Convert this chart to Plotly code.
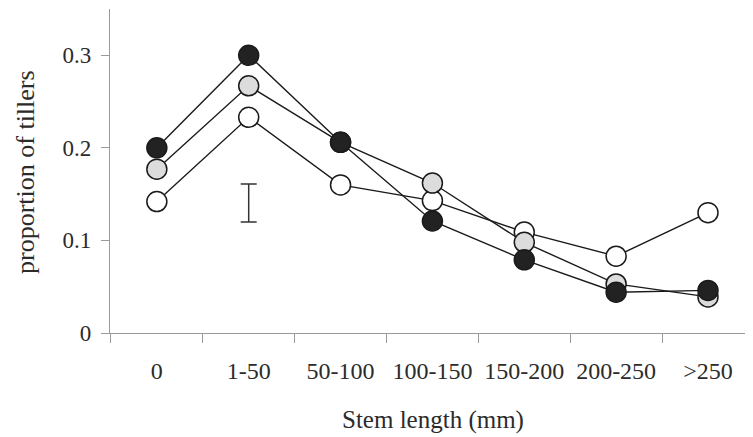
import plotly.graph_objects as go

categories = ["0", "1-50", "50-100", "100-150", "150-200", "200-250", ">250"]
black_series = [0.200, 0.300, 0.206, 0.121, 0.079, 0.044, 0.046]
grey_series = [0.177, 0.267, 0.206, 0.162, 0.098, 0.053, 0.039]
white_series = [0.142, 0.233, 0.160, 0.143, 0.109, 0.083, 0.130]
err_category = ["1-50"]
err_low = [0.120]
err_high = [0.161]
y_tickvals = [0, 0.1, 0.2, 0.3]
y_ticktext = ["0", "0.1", "0.2", "0.3"]

FONT = "Liberation Serif, Times New Roman, serif"
TEXT = "#2b2b2b"
AXIS = "#9a9a9a"

# page body has an 8px margin; figure is sized to fill the rest of the window
OFF = 8
W, H = 753 - OFF, 437 - OFF
ML, MR, MT, MB = 110 - OFF, 0, 9 - OFF, 104

fig = go.Figure()

series = [
    ("white", white_series, "#ffffff"),
    ("grey", grey_series, "#dcdcdc"),
    ("black", black_series, "#222222"),
]

for name, vals, fill in series:
    fig.add_trace(go.Scatter(x=categories, y=vals, mode="lines",
                             line=dict(color="#1a1a1a", width=1.4),
                             showlegend=False, hoverinfo="skip"))
for name, vals, fill in series:
    fig.add_trace(go.Scatter(x=categories, y=vals, mode="markers", name=name,
                             marker=dict(size=20, color=fill,
                                         line=dict(color="#1a1a1a", width=1.5)),
                             showlegend=False))

mid = [(lo + hi) / 2 for lo, hi in zip(err_low, err_high)]
half = [(hi - lo) / 2 for lo, hi in zip(err_low, err_high)]
fig.add_trace(go.Scatter(x=err_category, y=mid, mode="markers",
                         marker=dict(size=1, color="rgba(0,0,0,0)"),
                         error_y=dict(type="data", array=half, visible=True,
                                      color="#333333", thickness=1.5, width=8),
                         showlegend=False, hoverinfo="skip"))

plot_w = W - ML - MR
plot_h = H - MT - MB
bottom = H - MB  # pixel y of x-axis in figure coords

fig.update_layout(
    width=W, height=H,
    margin=dict(l=ML, r=MR, t=MT, b=MB),
    paper_bgcolor="white", plot_bgcolor="white",
    font=dict(family=FONT, color=TEXT, size=24),
    xaxis=dict(
        type="category", categoryorder="array", categoryarray=categories,
        range=[-0.51, 6.49], automargin=False,
        showline=True, linecolor=AXIS, linewidth=1.2,
        ticks="outside", tickson="boundaries", ticklen=9, tickcolor=AXIS, tickwidth=1,
        ticklabelstandoff=16,
        showgrid=False, zeroline=False,
        tickfont=dict(family=FONT, size=24, color=TEXT),
    ),
    yaxis=dict(
        range=[0, 0.35], automargin=False,
        tickvals=y_tickvals, ticktext=y_ticktext,
        showline=True, linecolor=AXIS, linewidth=1.2,
        ticks="outside", ticklen=8, tickcolor=AXIS, tickwidth=1,
        ticklabelstandoff=5,
        showgrid=False, zeroline=False,
        tickfont=dict(family=FONT, size=23, color=TEXT),
    ),
    annotations=[
        dict(text="Stem length (mm)", xref="paper", yref="paper",
             x=(433 - OFF - ML) / plot_w, y=-(420 - OFF - bottom) / plot_h,
             xanchor="center", yanchor="middle", showarrow=False,
             font=dict(family=FONT, size=25, color=TEXT)),
        dict(text="proportion of tillers", xref="paper", yref="paper",
             x=-(ML - (25 - OFF)) / plot_w, y=(bottom - (172 - OFF)) / plot_h,
             xanchor="center", yanchor="middle", showarrow=False, textangle=-90,
             font=dict(family=FONT, size=26, color=TEXT)),
    ],
)

fig.write_html("out.html")
